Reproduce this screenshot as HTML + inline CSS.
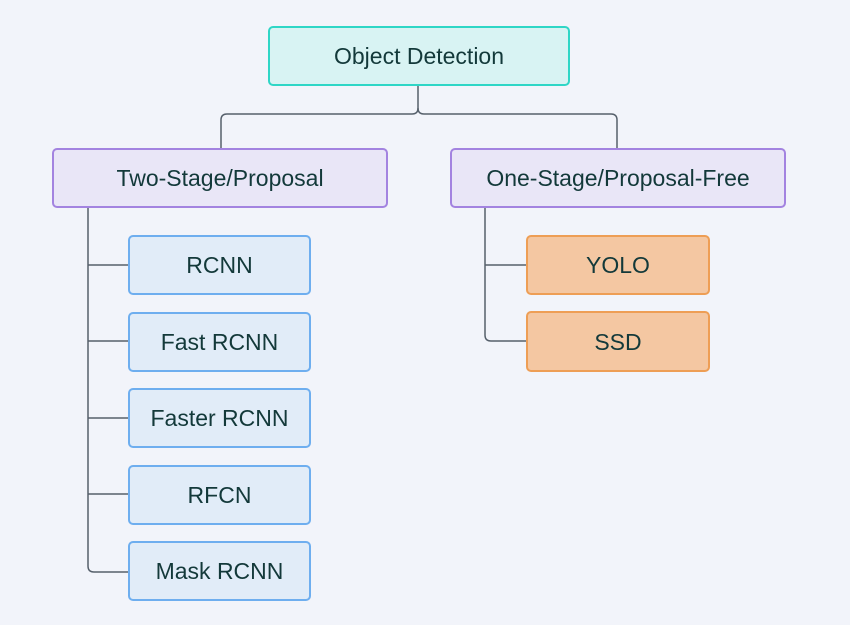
<!DOCTYPE html>
<html><head><style>
body{margin:0;width:850px;height:625px;background:#f2f4fa;position:relative;overflow:hidden;font-family:"Liberation Sans",sans-serif}
.b{position:absolute;box-sizing:border-box;border-radius:5px;display:flex;align-items:center;justify-content:center;font-size:23px;color:#13393a;border:2px solid;padding-top:1px}
.r{background:#d8f3f3;border-color:#2fd6c6}
.p{background:#e9e6f7;border-color:#a383e0}
.c{background:#e1ecf8;border-color:#6eaeef}
.o{background:#f4c7a2;border-color:#ee9e55}
svg{position:absolute;left:0;top:0}
</style></head><body>
<svg width="850" height="625" fill="none" stroke="#56606b" stroke-width="1.5">
<path d="M418 85 V108 Q418 114 412 114 H227 Q221 114 221 120 V148"/>
<path d="M418 108 Q418 114 424 114 H611 Q617 114 617 120 V148"/>
<path d="M88 207 V566 Q88 572 94 572 H128"/>
<path d="M88 265 H128 M88 341 H128 M88 418 H128 M88 494 H128"/>
<path d="M485 207 V335 Q485 341 491 341 H526"/>
<path d="M485 265 H526"/>
</svg>
<div class="b r" style="left:268px;top:26px;width:302px;height:60px">Object Detection</div>
<div class="b p" style="left:52px;top:148px;width:336px;height:60px">Two-Stage/Proposal</div>
<div class="b p" style="left:450px;top:148px;width:336px;height:60px">One-Stage/Proposal-Free</div>
<div class="b c" style="left:128px;top:235px;width:183px;height:60px">RCNN</div>
<div class="b c" style="left:128px;top:312px;width:183px;height:60px">Fast RCNN</div>
<div class="b c" style="left:128px;top:388px;width:183px;height:60px">Faster RCNN</div>
<div class="b c" style="left:128px;top:465px;width:183px;height:60px">RFCN</div>
<div class="b c" style="left:128px;top:541px;width:183px;height:60px">Mask RCNN</div>
<div class="b o" style="left:526px;top:235px;width:184px;height:60px">YOLO</div>
<div class="b o" style="left:526px;top:311px;width:184px;height:61px">SSD</div>
</body></html>
